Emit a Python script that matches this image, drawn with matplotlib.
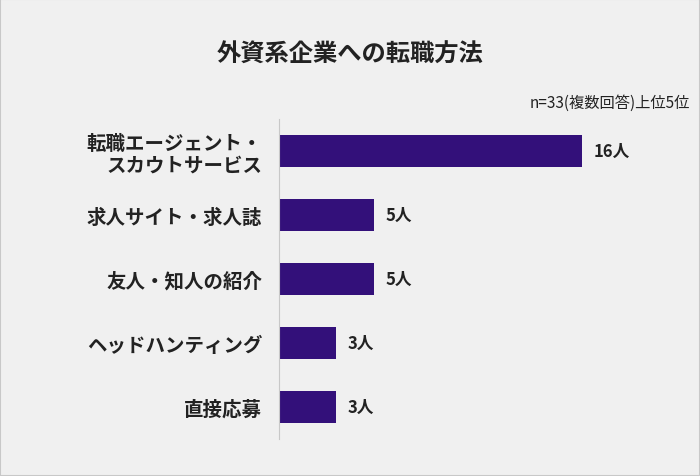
import matplotlib.pyplot as plt
from matplotlib.patches import Rectangle

plt.rcParams["font.family"] = "Noto Sans CJK JP"

categories = ["転職エージェント・\nスカウトサービス", "求人サイト・求人誌", "友人・知人の紹介",
              "ヘッドハンティング", "直接応募"]
values = [16, 5, 5, 3, 3]

fig = plt.figure(figsize=(7, 4.77), dpi=100)
fig.patch.set_facecolor("#f0f0f0")
fig.patches.append(Rectangle((0, 0), 1, 1, transform=fig.transFigure, fill=False,
                             edgecolor="#c8c8c8", linewidth=1.5))

ax = fig.add_axes([279 / 700, 37 / 477, 411 / 700, 320 / 477])
ax.set_facecolor("#f0f0f0")
scale = 303 / 16
ax.set_xlim(0, 411 / scale)
ax.set_ylim(4.5, -0.5)

ax.barh(range(len(values)), values, height=0.5, color="#33107a")
for i, v in enumerate(values):
    ax.text(v + 0.6, i, f"{v}人", va="center", ha="left", fontsize=12, fontweight="bold", color="#222222")

ax.set_yticks(range(len(categories)))
ax.set_yticklabels(categories, fontsize=14, fontweight="bold", color="#222222", linespacing=1.15)
ax.tick_params(axis="y", length=0, pad=12)
ax.set_xticks([])
for s in ["top", "right", "bottom"]:
    ax.spines[s].set_visible(False)
ax.spines["left"].set_color("#c8c8c8")

fig.text(0.5, 1 - 55 / 477, "外資系企業への転職方法", ha="center", va="center",
         fontsize=17.5, fontweight="bold", color="#222222")
fig.text(690 / 700, 1 - 103 / 477, "n=33(複数回答)上位5位", ha="right", va="center",
         fontsize=11, color="#222222")

fig.savefig("out.png", dpi=100, facecolor=fig.get_facecolor())
